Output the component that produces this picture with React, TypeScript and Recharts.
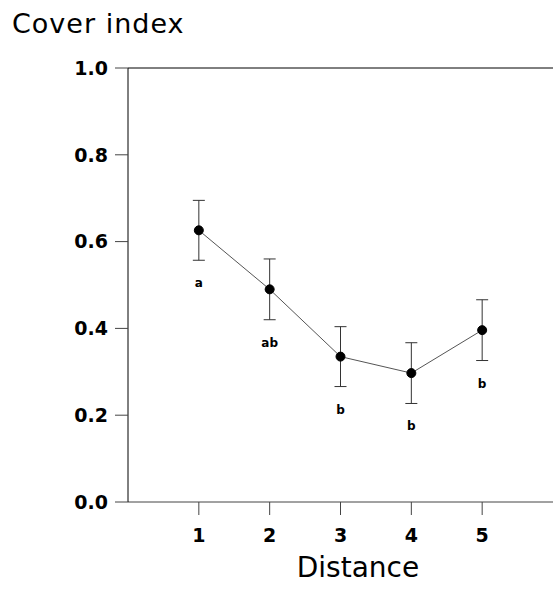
import { ComposedChart, Line, XAxis, YAxis, ErrorBar, LabelList, ReferenceLine } from "recharts";

const distances = [1, 2, 3, 4, 5];
const coverMean = [0.626, 0.49, 0.335, 0.297, 0.396];
const coverErr = [0.069, 0.07, 0.069, 0.07, 0.07];
const groupLetters = ["a", "ab", "b", "b", "b"];
const yTicks = [0, 0.2, 0.4, 0.6, 0.8, 1.0];

const data = distances.map((d, i) => ({
  d,
  mean: coverMean[i],
  err: coverErr[i],
  low: coverMean[i] - coverErr[i],
  letter: groupLetters[i],
}));

const FONT = "'DejaVu Sans', sans-serif";
const tickStyle = { fontSize: 19, fontWeight: 700, fill: "#000", fontFamily: FONT };

// letter sits a bit under the lower end of each error bar
const LetterLabel = (props: any) => {
  const { x, y, value } = props;
  return (
    <text x={x} y={y + 27} textAnchor="middle" fontSize={12} fontWeight={700} fill="#000" fontFamily={FONT}>
      {value}
    </text>
  );
};

export default function App() {
  return (
    <div style={{ position: "absolute", left: 0, top: 0, width: 553, height: 590, background: "#fff" }}>
      <ComposedChart width={553} height={590} data={data} margin={{ top: 68, right: 0, bottom: 0, left: 0 }}>
        <XAxis
          dataKey="d"
          type="number"
          domain={[0, 6]}
          ticks={distances}
          height={88}
          tickSize={13}
          tickMargin={14}
          tick={tickStyle}
          axisLine={{ stroke: "#444" }}
          tickLine={{ stroke: "#444" }}
        />
        <YAxis
          type="number"
          domain={[0, 1]}
          ticks={yTicks}
          width={128}
          tickSize={13}
          tickMargin={7}
          tick={tickStyle}
          tickFormatter={(v: number) => v.toFixed(1)}
          axisLine={{ stroke: "#000" }}
          tickLine={{ stroke: "#444" }}
        />
        <ReferenceLine y={1} stroke="#000" />
        <Line
          dataKey="low"
          stroke="none"
          dot={false}
          activeDot={false}
          isAnimationActive={false}
          legendType="none"
        >
          <LabelList dataKey="letter" content={<LetterLabel />} />
        </Line>
        <Line
          dataKey="mean"
          stroke="#555"
          strokeWidth={1}
          dot={{ r: 4.5, fill: "#000", stroke: "#000", strokeWidth: 1 }}
          activeDot={false}
          isAnimationActive={false}
        >
          <ErrorBar dataKey="err" width={6} stroke="#333" strokeWidth={1} />
        </Line>
      </ComposedChart>
      <svg width={553} height={590} style={{ position: "absolute", left: 0, top: 0, pointerEvents: "none" }}>
        <text x={12} y={33} fontSize={27} fontFamily={FONT} fill="#000" letterSpacing={1}>
          Cover index
        </text>
        <text x={358} y={577} fontSize={28} fontFamily={FONT} fill="#000" textAnchor="middle">
          Distance
        </text>
      </svg>
    </div>
  );
}
